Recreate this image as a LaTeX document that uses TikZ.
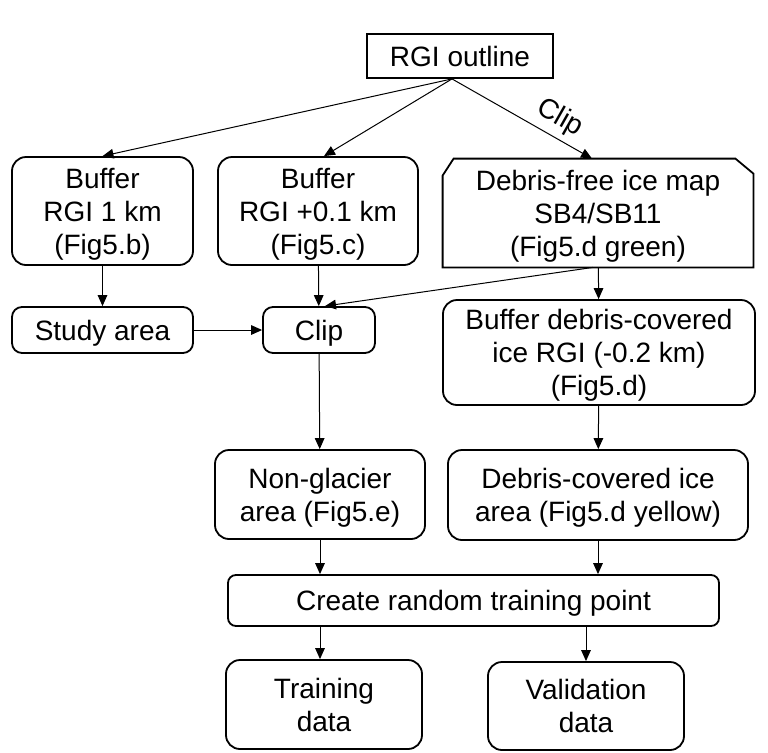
\documentclass[tikz,border=0pt]{standalone}
\usepackage{fontspec}
\setmainfont{Liberation Sans}
\usetikzlibrary{positioning,arrows.meta}

\begin{document}
\begin{tikzpicture}[x=0.5pt, y=-0.5pt,
    >={Triangle[length=5.5pt,width=4.8pt]},
    every node/.style={font=\fontsize{14}{16.5}\selectfont, align=center, inner sep=0pt, text depth=0pt},
    box/.style={draw, line width=0.9pt, rounded corners=7pt},
    plain/.style={draw, line width=0.9pt},
    edge/.style={line width=0.9pt},
    link/.style={->, line width=0.5pt}]

    \useasboundingbox (0,0) rectangle (768,752);

    % 方框
    \node[plain, minimum width=93pt, minimum height=22pt] (rgi) at (460,56) {RGI outline};
    \node[box, minimum width=90.5pt, minimum height=54pt] (buf1) at (102.5,211) {Buffer\\RGI 1 km\\(Fig5.b)};
    \node[box, minimum width=100pt, minimum height=54pt] (buf2) at (318,211) {Buffer\\RGI +0.1 km\\(Fig5.c)};
    \node[minimum width=155pt, minimum height=54pt] (dfree) at (598,213) {Debris-free ice map\\SB4/SB11\\(Fig5.d green)};
    \node[box, minimum width=90.5pt, minimum height=23pt, rounded corners=5pt] (study) at (102.5,330) {Study area};
    \node[box, minimum width=56pt, minimum height=23pt, rounded corners=5pt] (clip) at (319,330) {Clip};
    \node[box, minimum width=156pt, minimum height=52.5pt] (bufdeb) at (599,352.5) {Buffer debris-covered\\ice RGI (-0.2 km)\\(Fig5.d)};
    \node[box, minimum width=105pt, minimum height=44.5pt] (nonglac) at (320,494.5) {Non-glacier\\area (Fig5.e)};
    \node[box, minimum width=150pt, minimum height=45pt] (debarea) at (598,495) {Debris-covered ice\\area (Fig5.d yellow)};
    \node[box, minimum width=245.5pt, minimum height=25.5pt, rounded corners=4pt] (create) at (473.5,600.5) {Create random training point};
    \node[box, minimum width=98pt, minimum height=44.5pt] (train) at (324,704.5) {Training\\data};
    \node[box, minimum width=98pt, minimum height=44pt] (valid) at (586,706) {Validation\\data};

    % 斜角框
    \draw[edge] (dfree.south west) -- ([yshift=-8.5pt]dfree.north west) -- ([xshift=5.5pt]dfree.north west)
        -- ([xshift=-9pt]dfree.north east) -- ([yshift=-7.5pt]dfree.north east) -- (dfree.south east) -- cycle;

    % 箭头
    \draw[link] ([xshift=-4pt]rgi.south) -- (buf1.north);
    \draw[link] ([xshift=-4pt]rgi.south) -- ([xshift=3pt]buf2.north);
    \draw[link] ([xshift=-4pt]rgi.south) -- ([xshift=-3pt]dfree.north) node[pos=0.7, sloped, above=3pt, text depth=] {Clip};
    \draw[link] (buf1) -- (study);
    \draw[link] (buf2) -- (clip);
    \draw[link] (study) -- (clip);
    \draw[link] ([xshift=-2.5pt]dfree.south) -- ([xshift=3pt]clip.north);
    \draw[link] (dfree) -- (bufdeb);
    \draw[link] (clip) -- (nonglac);
    \draw[link] (bufdeb) -- (debarea);
    \draw[link] (nonglac) -- (nonglac |- create.north);
    \draw[link] (debarea) -- (debarea |- create.north);
    \draw[link] ([xshift=-2pt]train.north |- create.south) -- ([xshift=-2pt]train.north);
    \draw[link] (valid.north |- create.south) -- (valid);

\end{tikzpicture}
\end{document}
